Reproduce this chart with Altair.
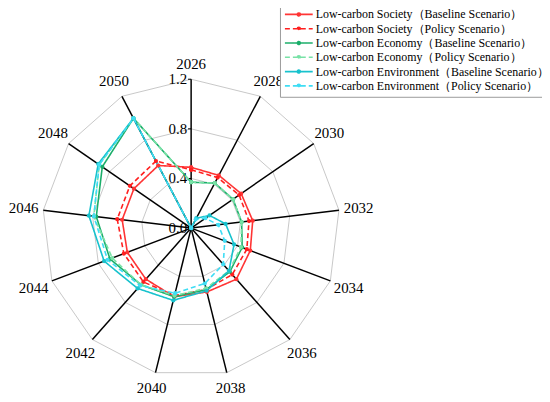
import altair as alt
import pandas as pd

years = ["2026", "2028", "2030", "2032", "2034", "2036", "2038",
         "2040", "2042", "2044", "2046", "2048", "2050"]

series_names = [
    "Low-carbon Society（Baseline Scenario）",
    "Low-carbon Society（Policy Scenario）",
    "Low-carbon Economy（Baseline Scenario）",
    "Low-carbon Economy（Policy Scenario）",
    "Low-carbon Environment（Baseline Scenario）",
    "Low-carbon Environment（Policy Scenario）",
]

society_base = [0.49, 0.48, 0.49, 0.50, 0.51, 0.55, 0.53, 0.57, 0.55, 0.55, 0.56, 0.56, 0.57]
society_policy = [0.47, 0.46, 0.47, 0.47, 0.48, 0.50, 0.51, 0.56, 0.58, 0.58, 0.60, 0.60, 0.61]
economy_base = [0.37, 0.41, 0.41, 0.41, 0.44, 0.47, 0.51, 0.57, 0.61, 0.70, 0.77, 0.87, 1.00]
economy_policy = [0.37, 0.41, 0.41, 0.41, 0.43, 0.46, 0.50, 0.56, 0.61, 0.68, 0.79, 0.90, 1.00]
environment_base = [0.00, 0.09, 0.18, 0.28, 0.37, 0.46, 0.52, 0.60, 0.65, 0.75, 0.83, 0.91, 1.00]
environment_policy = [0.00, 0.08, 0.14, 0.22, 0.29, 0.39, 0.46, 0.54, 0.62, 0.72, 0.79, 0.90, 1.00]

series_colors = ["#FF3434", "#FF1F1F", "#1BAE6A", "#78E2A6", "#17C2CD", "#3FDDF4"]
series_dashes = [[1, 0], [5, 3], [1, 0], [5, 3], [1, 0], [5, 3]]

ring_levels = [0.4, 0.8, 1.2]
tick_values = [0.0, 0.4, 0.8, 1.2]
tick_labels = ["0.0", "0.4", "0.8", "1.2"]

N = len(years)
RMAX = 1.2
FONT = "Liberation Serif"

all_values = [society_base, society_policy, economy_base, economy_policy,
              environment_base, environment_policy]

rows = []
for name, vals in zip(series_names, all_values):
    for i in range(N + 1):
        rows.append({"series": name, "idx": i, "value": vals[i % N]})
data_df = pd.DataFrame(rows)

ring_df = pd.DataFrame([{"level": lv, "idx": i} for lv in ring_levels for i in range(N + 1)])
spoke_df = pd.DataFrame({"idx": list(range(N)), "r": [RMAX] * N})
label_df = pd.DataFrame({"year": years, "idx": list(range(N))})
tick_df = pd.DataFrame({"v": tick_values, "label": tick_labels})

TOP_SHIFT = 7          # negative top padding lifts everything by this much
W, H = 538, 397
PX = 125.0             # pixels per unit
CX, CY = 192.5 - 8, 228.3 - (8 - TOP_SHIFT)
XD = [-CX / PX, (W - CX) / PX]
YD = [-(H - CY) / PX, CY / PX]

xs = alt.Scale(domain=XD, nice=False, zero=False)
ys = alt.Scale(domain=YD, nice=False, zero=False)

ANG = f"datum.idx * 2 * PI / {N}"

rings = alt.Chart(ring_df).transform_calculate(
    x=f"datum.level * sin({ANG})", y=f"datum.level * cos({ANG})"
).mark_line(color="#c8c8c8", strokeWidth=1).encode(
    x=alt.X("x:Q", scale=xs, axis=None),
    y=alt.Y("y:Q", scale=ys, axis=None),
    detail="level:N",
    order="idx:Q",
)

spokes = alt.Chart(spoke_df).transform_calculate(
    x0="0", y0="0",
    x=f"datum.r * sin({ANG})", y=f"datum.r * cos({ANG})"
).mark_rule(color="black", strokeWidth=1.5).encode(
    x=alt.X("x0:Q", scale=xs, axis=None),
    y=alt.Y("y0:Q", scale=ys, axis=None),
    x2="x:Q",
    y2="y:Q",
)

ticks = alt.Chart(tick_df).transform_calculate(
    x0="0", x1="-0.025"
).mark_rule(color="black", strokeWidth=1).encode(
    x=alt.X("x0:Q", scale=xs, axis=None),
    x2="x1:Q",
    y=alt.Y("v:Q", scale=ys, axis=None),
)

tick_text = alt.Chart(tick_df).transform_calculate(
    x0="0"
).mark_text(font=FONT, fontSize=15, align="right", baseline="middle", dx=-4, color="black").encode(
    x=alt.X("x0:Q", scale=xs, axis=None),
    y=alt.Y("v:Q", scale=ys, axis=None),
    text="label:N",
)

legend_def = alt.Legend(
    title=None,
    orient="none",
    legendX=274,
    legendY=1,
    fillColor="white",
    strokeColor="#9a9a9a",
    padding=5,
    labelFont=FONT,
    labelFontSize=12,
    labelColor="black",
    labelLimit=400,
    labelOffset=11,
    rowPadding=2.4,
    symbolType="M-2.8,0H2.8M-0.3,0A0.3,0.3 0 1,1 0.3,0A0.3,0.3 0 1,1 -0.3,0",
    symbolSize=100,
    symbolStrokeWidth=1.6,
    symbolOffset=8,
)

lines = alt.Chart(data_df).transform_calculate(
    x=f"datum.value * sin({ANG})", y=f"datum.value * cos({ANG})"
).mark_line(strokeWidth=1.6, point=alt.OverlayMarkDef(filled=True, size=18)).encode(
    x=alt.X("x:Q", scale=xs, axis=None),
    y=alt.Y("y:Q", scale=ys, axis=None),
    color=alt.Color("series:N", scale=alt.Scale(domain=series_names, range=series_colors),
                    legend=legend_def),
    strokeDash=alt.StrokeDash("series:N", scale=alt.Scale(domain=series_names, range=series_dashes),
                              legend=legend_def),
    order="idx:Q",
)

year_text = alt.Chart(label_df).transform_calculate(
    rr=f"1.32 + 0.04 * abs(sin({ANG}))",
).transform_calculate(
    x=f"datum.rr * sin({ANG})", y=f"datum.rr * cos({ANG})"
).mark_text(font=FONT, fontSize=15, align="center", baseline="middle", color="black").encode(
    x=alt.X("x:Q", scale=xs, axis=None),
    y=alt.Y("y:Q", scale=ys, axis=None),
    text="year:N",
)

chart = alt.layer(rings, spokes, ticks, tick_text, lines, year_text).properties(
    width=W, height=H,
    padding={"top": -TOP_SHIFT, "left": 0, "right": 0, "bottom": 0},
    autosize=alt.AutoSizeParams(type="none"),
    background="white",
).configure_view(stroke=None)

chart.save("out.html", embed_options={"renderer": "svg", "actions": False})
